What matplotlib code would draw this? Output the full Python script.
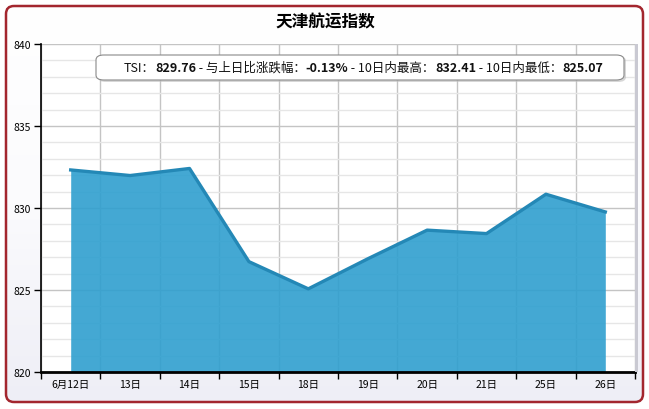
import numpy as np
import matplotlib
matplotlib.use("Agg")
import matplotlib.pyplot as plt
import matplotlib.text as mtext
from matplotlib.patches import FancyBboxPatch, Rectangle
from matplotlib.colors import LinearSegmentedColormap
from matplotlib.ticker import MultipleLocator, FixedLocator, NullFormatter, FixedFormatter

plt.rcParams['font.family'] = ['Noto Sans CJK SC', 'DejaVu Sans']

title = "天津航运指数"
categories = ["6月12日", "13日", "14日", "15日", "18日", "19日", "20日", "21日", "25日", "26日"]
tsi_values = [832.32, 831.98, 832.41, 826.73, 825.07, 826.90, 828.65, 828.44, 830.84, 829.76]
info_parts = [("TSI：", "normal"), ("829.76", "bold"),
              (" - 与上日比涨跌幅：", "normal"), ("-0.13%", "bold"),
              (" - 10日内最高：", "normal"), ("832.41", "bold"),
              (" - 10日内最低：", "normal"), ("825.07", "bold")]

W, H = 649, 410
fig = plt.figure(figsize=(W / 100, H / 100), dpi=100)
fig.patch.set_facecolor('white')

def fx(px):
    return px / W

def fy(py):
    return 1 - py / H

# background with gradient inside rounded border
bg = fig.add_axes([0, 0, 1, 1], zorder=-10)
bg.set_xlim(0, W)
bg.set_ylim(H, 0)
bg.axis('off')
grad = np.linspace(0, 1, 256).reshape(-1, 1)
cmap = LinearSegmentedColormap.from_list('g', ['#ffffff', '#fbfbfd', '#eeeef6'])
im = bg.imshow(grad, extent=[5, 643, 403, 7], cmap=cmap, aspect='auto', zorder=0)
border = FancyBboxPatch((6, 7), 637, 396, boxstyle="round,pad=0,rounding_size=8",
                        facecolor='none', edgecolor='#a3262e', linewidth=1.8, zorder=2)
bg.add_patch(border)
im.set_clip_path(border)

# title
fig.text(fx(325), fy(22), title, ha='center', va='center', fontsize=12, fontweight='bold', color='#000000')

# main axes
ax = fig.add_axes([fx(41), fy(373), fx(635) - fx(41), fy(45) - fy(373)])
ax.set_facecolor('white')
n = len(categories)
x = np.arange(n) + 0.5
ax.set_xlim(0, n)
ax.set_ylim(820, 840)

ax.fill_between(x, tsi_values, 820, color='#2f9fcf', alpha=0.9, linewidth=0, zorder=2)
ax.plot(x, tsi_values, color='#2488b6', linewidth=2.4, solid_joinstyle='round', zorder=3)

# ticks and grid
ax.xaxis.set_major_locator(FixedLocator(np.arange(n + 1)))
ax.xaxis.set_major_formatter(NullFormatter())
ax.xaxis.set_minor_locator(FixedLocator(x))
ax.xaxis.set_minor_formatter(FixedFormatter(categories))
ax.tick_params(axis='x', which='major', direction='out', length=5, width=1, color='black')
ax.tick_params(axis='x', which='minor', length=0, pad=5, labelsize=7.5)
ax.yaxis.set_major_locator(MultipleLocator(5))
ax.yaxis.set_minor_locator(MultipleLocator(1))
ax.tick_params(axis='y', which='major', direction='out', length=5, width=1, labelsize=7.5, pad=2)
ax.tick_params(axis='y', which='minor', length=0)
ax.grid(True, which='major', axis='both', color='#c4c4c4', linewidth=1, zorder=1)
ax.grid(True, which='minor', axis='y', color='#e6e6e6', linewidth=1, zorder=1)
ax.set_axisbelow(True)
for s in ['top', 'right']:
    ax.spines[s].set_visible(False)
ax.spines['left'].set_linewidth(1.2)
ax.spines['bottom'].set_linewidth(2)

# right shadow bar
fig.patches.append(Rectangle((fx(635), fy(373)), fx(3), fy(45) - fy(373),
                             transform=fig.transFigure, facecolor='#c9c9d2', edgecolor='none', zorder=5))

# info box with shadow
shadow = FancyBboxPatch((fx(98), fy(83)), fx(528), fy(57) - fy(83),
                        boxstyle="round,pad=0,rounding_size=0.012", transform=fig.transFigure,
                        facecolor='#bdbdbd', edgecolor='none', alpha=0.6, zorder=6)
box = FancyBboxPatch((fx(96), fy(81)), fx(528), fy(56) - fy(81),
                     boxstyle="round,pad=0,rounding_size=0.012", transform=fig.transFigure,
                     facecolor='white', edgecolor='#8a8a8a', linewidth=0.8, zorder=7)
fig.patches.append(shadow)
fig.patches.append(box)

fs = 9.0
prev = fig.text(fx(124), fy(68.5), info_parts[0][0], ha='left', va='center', fontsize=fs,
                fontweight=info_parts[0][1], color='#111111', zorder=8)
for txt, wt in info_parts[1:]:
    prev = fig.add_artist(mtext.Annotation(txt, xy=(1, 0.5), xycoords=prev,
                                           ha='left', va='center', fontsize=fs,
                                           fontweight=wt, color='#111111', zorder=8))

fig.savefig('out.png', dpi=100, facecolor='white')
